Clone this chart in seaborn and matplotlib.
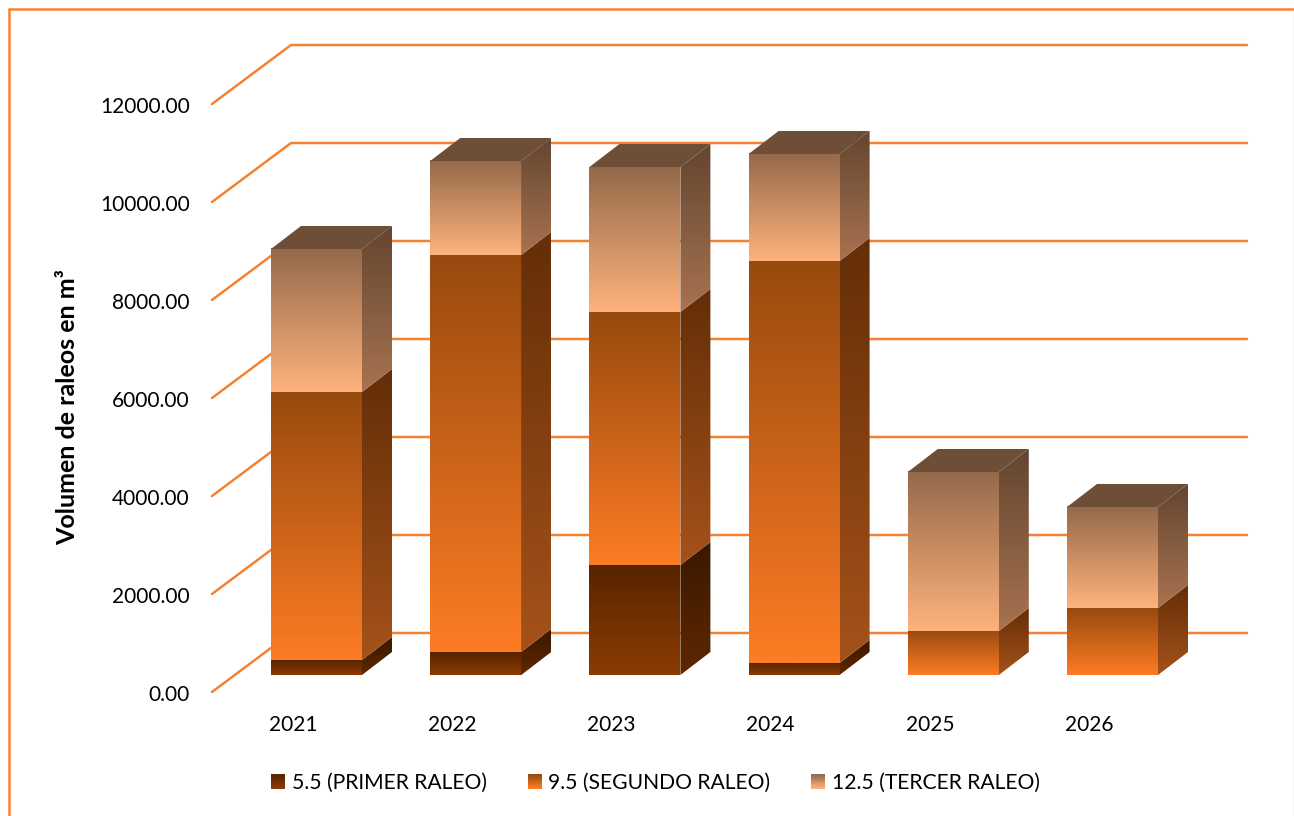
"""Volumen de raleos por año, barras apiladas con aspecto 3D."""

import numpy as np
import pandas as pd
import matplotlib
matplotlib.use("Agg")
import matplotlib.pyplot as plt
import seaborn as sns
from matplotlib.colors import LinearSegmentedColormap
from matplotlib.legend_handler import HandlerBase
from matplotlib.lines import Line2D
from matplotlib.patches import Patch, Polygon, Rectangle
from matplotlib.transforms import ScaledTranslation

years = ["2021", "2022", "2023", "2024", "2025", "2026"]
primer = [306, 469, 2245, 245, 0, 0]
segundo = [5469, 8102, 5163, 8204, 898, 1367]
tercer = [2919, 1919, 2959, 2184, 3245, 2062]
series_names = ["5.5 (PRIMER RALEO)", "9.5 (SEGUNDO RALEO)", "12.5 (TERCER RALEO)"]
y_ticks = [0, 2000, 4000, 6000, 8000, 10000, 12000]

# (arriba, abajo) de cada degradado
front_colors = [("#572400", "#8c3b02"), ("#984a0e", "#fd7c24"), ("#94694a", "#ffb27c")]
side_colors = [("#3a1800", "#5e2800"), ("#642e08", "#a5521a"), ("#634530", "#a87350")]
TOP_COLOR = "#6e4e37"
LINE_COLOR = "#f58233"
FONT = "Lato"

W, H = 1294, 816
PX_X = 159.2      # pixeles por categoria
PX_Y = 0.049      # pixeles por unidad
BASE_PY = 675


def vgrad(ax, extent, colors, clip=None, zorder=3.0):
    """Pinta un degradado vertical dentro de extent."""
    cmap = LinearSegmentedColormap.from_list("g", colors)
    grad = np.linspace(0, 1, 256).reshape(-1, 1)
    im = ax.imshow(grad, cmap=cmap, extent=extent, aspect="auto", origin="upper",
                   interpolation="bilinear", zorder=zorder)
    if clip is not None:
        im.set_clip_path(clip)
    return im


class GradientHandler(HandlerBase):
    """Cuadro de leyenda con degradado."""

    def __init__(self, colors):
        super().__init__()
        self.colors = colors

    def create_artists(self, legend, orig, xd, yd, width, height, fontsize, trans):
        cmap = LinearSegmentedColormap.from_list("g", self.colors)
        n = 16
        out = []
        for i in range(n):
            out.append(Rectangle((-xd, -yd + height * (n - 1 - i) / n), width, height / n + 0.1,
                                 facecolor=cmap(i / (n - 1)), edgecolor="none", transform=trans))
        return out


sns.set_theme(style="white")
plt.rcParams["font.family"] = [FONT, "DejaVu Sans"]

fig = plt.figure(figsize=(W / 100, H / 100), dpi=100)
ax = fig.add_axes([212 / W, 1 - 692 / H, (1248 - 212) / W, (692 - 10) / H])

df = pd.DataFrame({"year": years, "primer": primer, "segundo": segundo, "tercer": tercer})
bottoms = np.zeros(len(years))
for col, colors in zip(["primer", "segundo", "tercer"], front_colors):
    sns.barplot(data=df, x="year", y=col, bottom=bottoms, width=91 / PX_X, color=colors[1],
                saturation=1, errorbar=None, ax=ax, zorder=2.9, linewidth=0)
    bottoms = bottoms + df[col].to_numpy()

# profundidad de la barra
dx = 30 / PX_X
dy = 23 / PX_Y

for k, container in enumerate(ax.containers):
    for bar in container:
        x0, x1 = bar.get_x(), bar.get_x() + bar.get_width()
        y0, y1 = bar.get_y(), bar.get_y() + bar.get_height()
        if y1 <= y0:
            continue
        vgrad(ax, (x0, x1, y0, y1), front_colors[k])
        side = Polygon([(x1, y0), (x1 + dx, y0 + dy), (x1 + dx, y1 + dy), (x1, y1)],
                       closed=True, facecolor="none", edgecolor="none", transform=ax.transData)
        ax.add_patch(side)
        vgrad(ax, (x1, x1 + dx, y0, y1 + dy), side_colors[k], clip=side)
        if k == 2:
            ax.add_patch(Polygon([(x0, y1), (x1, y1), (x1 + dx, y1 + dy), (x0 + dx, y1 + dy)],
                                 closed=True, facecolor=TOP_COLOR, edgecolor="none", zorder=3.0))

# pared del fondo y lineas diagonales
x_front = (212 - 316.5) / PX_X
x_back = (291 - 316.5) / PX_X
x_end = (1247 - 316.5) / PX_X
y_front = (BASE_PY - 692) / PX_Y
y_back = (BASE_PY - 633) / PX_Y
for v in y_ticks:
    ax.plot([x_front, x_back, x_end], [v + y_front, v + y_back, v + y_back],
            color=LINE_COLOR, lw=1.8, zorder=1, solid_joinstyle="miter", clip_on=False)

ax.set_xlim(x_front, (1248 - 316.5) / PX_X)
ax.set_ylim(y_front, (BASE_PY - 10) / PX_Y)
ax.set_xlabel("")
ax.set_ylabel("")
sns.despine(ax=ax, left=True, bottom=True)
ax.patch.set_alpha(0)

# las etiquetas van en el plano frontal, no en la base de las barras
ax.set_yticks(y_ticks)
ax.set_yticklabels([f"{v:.2f}" for v in y_ticks], fontsize=15, color="black")
ax.tick_params(axis="y", length=0, pad=16)
ax.tick_params(axis="x", length=0, pad=16.7, labelsize=15, labelcolor="black")
off_y = ScaledTranslation(0, -18 / 100, fig.dpi_scale_trans)
off_x = ScaledTranslation(-23.5 / 100, 0, fig.dpi_scale_trans)
for lab in ax.get_yticklabels():
    lab.set_transform(lab.get_transform() + off_y)
for lab in ax.get_xticklabels():
    lab.set_transform(lab.get_transform() + off_x)

fig.text(68 / W, 1 - 407 / H, "Volumen de raleos en m³", rotation=90, ha="center", va="center",
         fontsize=18, fontweight="bold", color="black")

handles = [Patch(label=n) for n in series_names]
handler_map = {h: GradientHandler(c) for h, c in zip(handles, front_colors)}
fig.legend(handles=handles, handler_map=handler_map, loc="center", ncol=3,
           bbox_to_anchor=(655.5 / W, 1 - 783 / H), frameon=False, fontsize=15.2,
           handlelength=0.66, handleheight=0.66, handletextpad=0.3, columnspacing=1.95,
           labelcolor="black")

# marco del grafico
fig.add_artist(Line2D([9 / W, 9 / W, 1], [0, 1 - 9 / H, 1 - 9 / H], color=LINE_COLOR, lw=1.8,
                      solid_joinstyle="miter"))
fig.add_artist(Line2D([1293.5 / W, 1293.5 / W], [0, 1 - 9 / H], color="#fbc9a6", lw=1))

fig.savefig("out.png", dpi=100)
